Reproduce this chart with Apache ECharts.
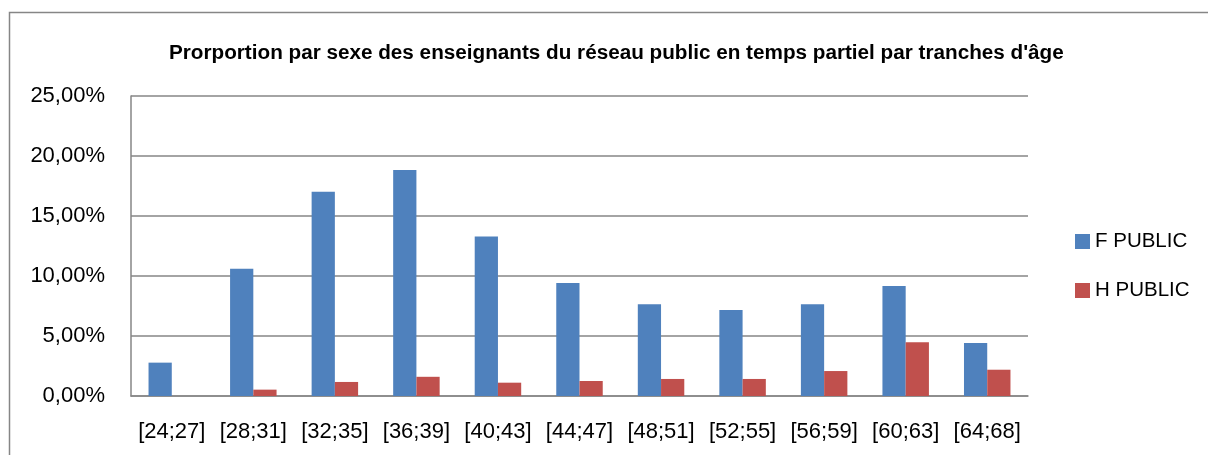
<!DOCTYPE html>
<html>
<head>
<meta charset="utf-8">
<script src="https://cdn.jsdelivr.net/npm/echarts@6/dist/echarts.min.js"></script>
<style>
html,body{margin:0;padding:0;background:#fff;}
#c{width:1208px;height:455px;}
</style>
</head>
<body>
<div id="c"></div>
<script>
var categories = ['[24;27]','[28;31]','[32;35]','[36;39]','[40;43]','[44;47]','[48;51]','[52;55]','[56;59]','[60;63]','[64;68]'];
var fPublic = [2.78, 10.6, 17.03, 18.83, 13.3, 9.42, 7.64, 7.17, 7.64, 9.17, 4.42];
var hPublic = [0, 0.53, 1.17, 1.6, 1.11, 1.25, 1.42, 1.42, 2.08, 4.47, 2.19];
var titleText = "Prorportion par sexe des enseignants du réseau public en temps partiel par tranches d'âge";
var seriesNames = ['F PUBLIC', 'H PUBLIC'];

var chart = echarts.init(document.getElementById('c'), null, {renderer: 'canvas'});
var font = 'Liberation Sans';
chart.setOption({
  animation: false,
  backgroundColor: '#fff',
  graphic: [{
    type: 'rect',
    shape: {x: 9.5, y: 12.5, width: 1220, height: 470},
    style: {fill: 'none', stroke: '#868686', lineWidth: 1.5},
    silent: true
  }],
  title: {
    text: titleText,
    left: 164,
    top: 38,
    textStyle: {fontFamily: font, fontWeight: 'bold', fontSize: 20.7, color: '#000'}
  },
  legend: {
    orient: 'vertical',
    left: 1070,
    top: 226,
    itemWidth: 15,
    itemHeight: 15,
    itemGap: 28,
    icon: 'rect',
    textStyle: {fontFamily: font, fontSize: 20.5, color: '#000', padding: [0,0,0,0]},
    data: seriesNames
  },
  grid: {left: 131, right: 180, top: 96, bottom: 59, containLabel: false},
  xAxis: {
    type: 'category',
    data: categories,
    axisLine: {show: true, lineStyle: {color: '#868686', width: 1.5}},
    axisTick: {show: false},
    axisLabel: {fontFamily: font, fontSize: 22, color: '#000', margin: 25, interval: 0}
  },
  yAxis: {
    type: 'value',
    min: 0,
    max: 25,
    interval: 5,
    axisLine: {show: true, lineStyle: {color: '#868686', width: 1.5}},
    axisTick: {show: false},
    splitLine: {show: true, lineStyle: {color: '#868686', width: 1.5}},
    axisLabel: {
      fontFamily: font, fontSize: 22, color: '#000', margin: 26,
      formatter: function (v) { return v.toFixed(2).replace('.', ',') + '%'; }
    }
  },
  series: [
    {name: seriesNames[0], type: 'bar', data: fPublic, barGap: '0%', barCategoryGap: '43%',
     itemStyle: {color: '#4F81BD'}},
    {name: seriesNames[1], type: 'bar', data: hPublic,
     itemStyle: {color: '#C0504D'}}
  ]
});
</script>
</body>
</html>
